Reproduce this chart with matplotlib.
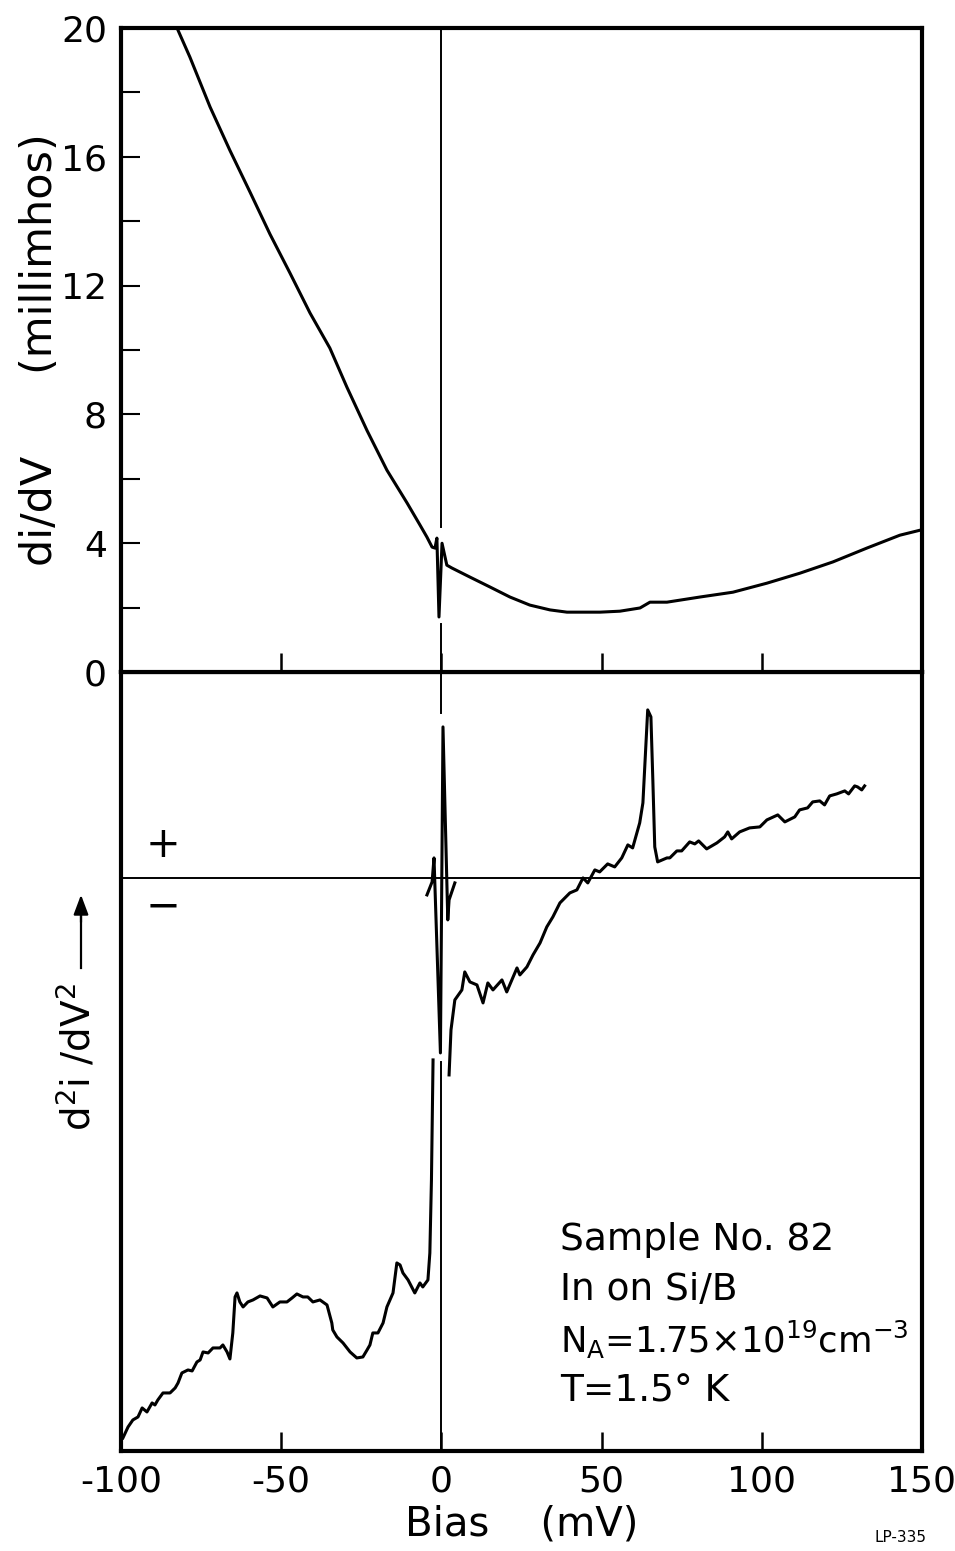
import numpy as np
import matplotlib.pyplot as plt

plt.rcParams['font.family'] = ['DejaVu Sans']
plt.rcParams['mathtext.default'] = 'regular'
plt.rcParams['axes.unicode_minus'] = False

# ---- top panel: di/dV (millimhos) vs bias (mV)
didv_bias = [-82.5, -78.5, -72.2, -66.0, -59.7, -53.5, -47.3, -41.0, -34.8, -29.5,
             -23.2, -17.0, -10.7, -6.7, -4.5, -2.9, -2.0, -1.4, -0.75, 0.2,
             1.7, 3.3, 8.9, 15.2, 21.4, 27.6, 33.9, 39.2, 43.3, 49.5,
             55.7, 62.0, 65.1, 70.4, 80.7, 91.0, 101.6, 111.9, 122.2, 132.8,
             143.1, 150.0]
didv_vals = [20.0, 19.1, 17.55, 16.2, 14.9, 13.6, 12.4, 11.15, 10.06, 8.85,
             7.5, 6.27, 5.25, 4.57, 4.19, 3.88, 3.85, 4.16, 1.71, 4.0,
             3.32, 3.23, 2.95, 2.64, 2.33, 2.08, 1.93, 1.86, 1.86, 1.86,
             1.89, 1.99, 2.17, 2.17, 2.33, 2.48, 2.76, 3.07, 3.42, 3.85,
             4.25, 4.42]

# ---- bottom panel: d2i/dV2 (arbitrary units), three pen traces
d2_left_bias = [-99.4, -97.8, -96.3, -94.7, -93.4, -91.9, -90.3, -89.4, -88.5, -86.9,
                -84.7, -83.1, -82.2, -81.0, -79.1, -77.8, -76.3, -75.3, -74.4, -72.8,
                -71.3, -69.1, -68.2, -66.9, -66.0, -65.1, -64.4, -63.8, -62.9, -61.9,
                -60.4, -58.8, -56.6, -54.4, -52.6, -50.4, -48.2, -46.6, -45.1, -43.2,
                -41.7, -40.1, -37.9, -35.7, -34.2, -33.9, -32.6, -30.7, -28.5, -26.4,
                -24.5, -23.2, -22.3, -21.4, -19.8, -18.2, -17.0, -15.1, -13.9, -12.9,
                -12.0, -10.4, -8.3, -6.7, -5.8, -4.2, -3.6, -3.1, -2.6]
d2_left_vals = [-56.0, -54.9, -54.2, -53.9, -53.0, -53.4, -52.5, -52.7, -52.2, -51.5,
                -51.5, -51.0, -50.5, -49.5, -49.2, -49.3, -48.4, -48.2, -47.4, -47.5,
                -47.0, -47.0, -46.7, -47.4, -48.1, -45.5, -41.9, -41.5, -42.4, -42.9,
                -42.4, -42.2, -41.8, -42.0, -42.9, -42.4, -42.4, -42.0, -41.6, -41.9,
                -41.9, -42.4, -42.2, -42.7, -44.5, -45.2, -45.9, -46.5, -47.4, -48.0,
                -47.9, -47.2, -46.7, -45.5, -45.5, -44.5, -42.9, -41.5, -38.5, -38.7,
                -39.5, -40.2, -41.5, -40.5, -40.9, -40.2, -37.5, -30.2, -18.2]

d2_mid_bias = [-4.5, -2.9, -2.3, -0.3, 0.5, 2.0, 2.4, 4.2]
d2_mid_vals = [-1.7, -0.4, 2.0, -17.5, 15.1, -4.2, -2.2, -0.5]

d2_right_bias = [2.4, 3.0, 4.2, 6.4, 7.3, 8.9, 11.1, 13.0, 14.5, 16.1,
                 18.9, 20.4, 23.6, 24.5, 26.7, 28.6, 30.8, 32.9, 34.8, 37.0,
                 40.1, 42.3, 44.2, 45.7, 47.9, 49.4, 51.9, 54.1, 56.3, 58.2,
                 59.7, 61.9, 62.9, 63.8, 64.4, 65.4, 66.0, 66.6, 67.5, 70.4,
                 71.3, 73.5, 75.0, 77.5, 79.1, 80.3, 82.8, 86.0, 88.4, 89.4,
                 90.6, 93.1, 96.2, 99.4, 101.6, 105.0, 107.2, 110.3, 111.8, 114.3,
                 115.9, 118.1, 119.6, 121.2, 123.4, 125.9, 127.1, 129.0, 129.9, 131.2,
                 132.1]
d2_right_vals = [-19.7, -15.2, -12.2, -11.2, -9.4, -10.4, -10.7, -12.5, -10.5, -11.2,
                 -10.2, -11.4, -9.0, -9.7, -8.9, -7.7, -6.5, -4.9, -3.9, -2.5,
                 -1.5, -1.2, 0.0, -0.5, 0.8, 0.6, 1.4, 1.1, 2.0, 3.3,
                 3.0, 5.5, 7.5, 13.1, 16.8, 16.1, 9.8, 3.1, 1.6, 2.0,
                 2.0, 2.7, 2.7, 3.6, 3.4, 3.7, 2.9, 3.5, 4.1, 4.6,
                 3.9, 4.6, 5.0, 5.1, 5.8, 6.3, 5.6, 6.1, 6.8, 7.0,
                 7.6, 7.7, 7.3, 8.2, 8.4, 8.7, 8.4, 9.2, 9.1, 8.8,
                 9.2]

# pieces of the zero-bias vertical line that show between the traces
zero_top = [(4.5, 20.0), (0.0, 1.5)]
zero_bot = [(16.5, 20.6), (-18.4, -57.3)]

xlim = (-100, 150)
xticks = [-100, -50, 0, 50, 100, 150]
yticks_top = np.arange(0, 21, 2)
ylabels_top = ['0', '', '4', '', '8', '', '12', '', '16', '', '20']

fig = plt.figure(figsize=(9.55, 15.51), dpi=100)
ax2 = fig.add_axes([0.1267, 0.0645, 0.8387, 0.5023])
ax1 = fig.add_axes([0.1267, 0.5667, 0.8387, 0.4152])

lw_trace = 2.2
for ax in (ax1, ax2):
    for s in ax.spines.values():
        s.set_linewidth(3.0)
    ax.set_xlim(*xlim)
    ax.tick_params(axis='x', direction='in', length=14, width=1.8, top=False)
    ax.tick_params(axis='y', direction='in', length=14, width=1.5, right=False)
    ax.tick_params(labelsize=26, pad=10)

# top panel
ax1.plot(didv_bias, didv_vals, color='black', lw=lw_trace)
for y0, y1 in zero_top:
    ax1.plot([0, 0], [y0, y1], color='black', lw=1.4)
ax1.set_ylim(0, 20)
ax1.set_yticks(yticks_top)
ax1.set_yticklabels(ylabels_top)
ax1.set_xticks(xticks)
ax1.tick_params(axis='x', labelbottom=False)
ax1.set_ylabel('di/dV      (millimhos)', fontsize=31, va='center')
ax1.yaxis.set_label_coords(-0.101, 0.5)

# bottom panel
ax2.plot(d2_left_bias, d2_left_vals, color='black', lw=lw_trace)
ax2.plot(d2_mid_bias, d2_mid_vals, color='black', lw=lw_trace)
ax2.plot(d2_right_bias, d2_right_vals, color='black', lw=lw_trace)
for y0, y1 in zero_bot:
    ax2.plot([0, 0], [y0, y1], color='black', lw=1.4)
ax2.axhline(0, color='black', lw=1.4)
ax2.set_ylim(-57.3, 20.6)
ax2.set_yticks([])
ax2.set_xticks(xticks)
ax2.set_xlabel('Bias    (mV)', fontsize=29, labelpad=4)

ax2.text(-87, 3.3, '+', fontsize=30, ha='center', va='center')
ax2.text(-87, -2.9, '\u2212', fontsize=30, ha='center', va='center')

info = ['Sample No. 82', 'In on Si/B',
        r'N$_A$=1.75×10$^{19}$cm$^{-3}$', 'T=1.5° K']
info_y = [-36.2, -41.2, -46.2, -51.4]
info_size = [27, 27, 25.5, 27]
for txt, yy, fs in zip(info, info_y, info_size):
    ax2.text(37, yy, txt, fontsize=fs, ha='left', va='center')

# rotated d2i/dV2 label with the upward arrow
fig.text(77 / 955, 1 - 1057 / 1551, r'd$^2$i /dV$^2$', rotation=90,
         fontsize=28, ha='center', va='center')
fig.add_artist(plt.Line2D([81 / 955, 81 / 955], [1 - 968 / 1551, 1 - 905 / 1551],
                          color='black', lw=1.6))
ax2.annotate('', xy=(81 / 955, 1 - 892 / 1551), xycoords='figure fraction',
             xytext=(81 / 955, 1 - 925 / 1551), textcoords='figure fraction',
             arrowprops=dict(arrowstyle='-|>,head_length=1.2,head_width=0.45',
                             color='black', lw=1.6))

fig.text(900 / 955, 1 - 1538 / 1551, 'LP-335', fontsize=11, ha='center', va='center')

plt.savefig('out.png', dpi=100)
